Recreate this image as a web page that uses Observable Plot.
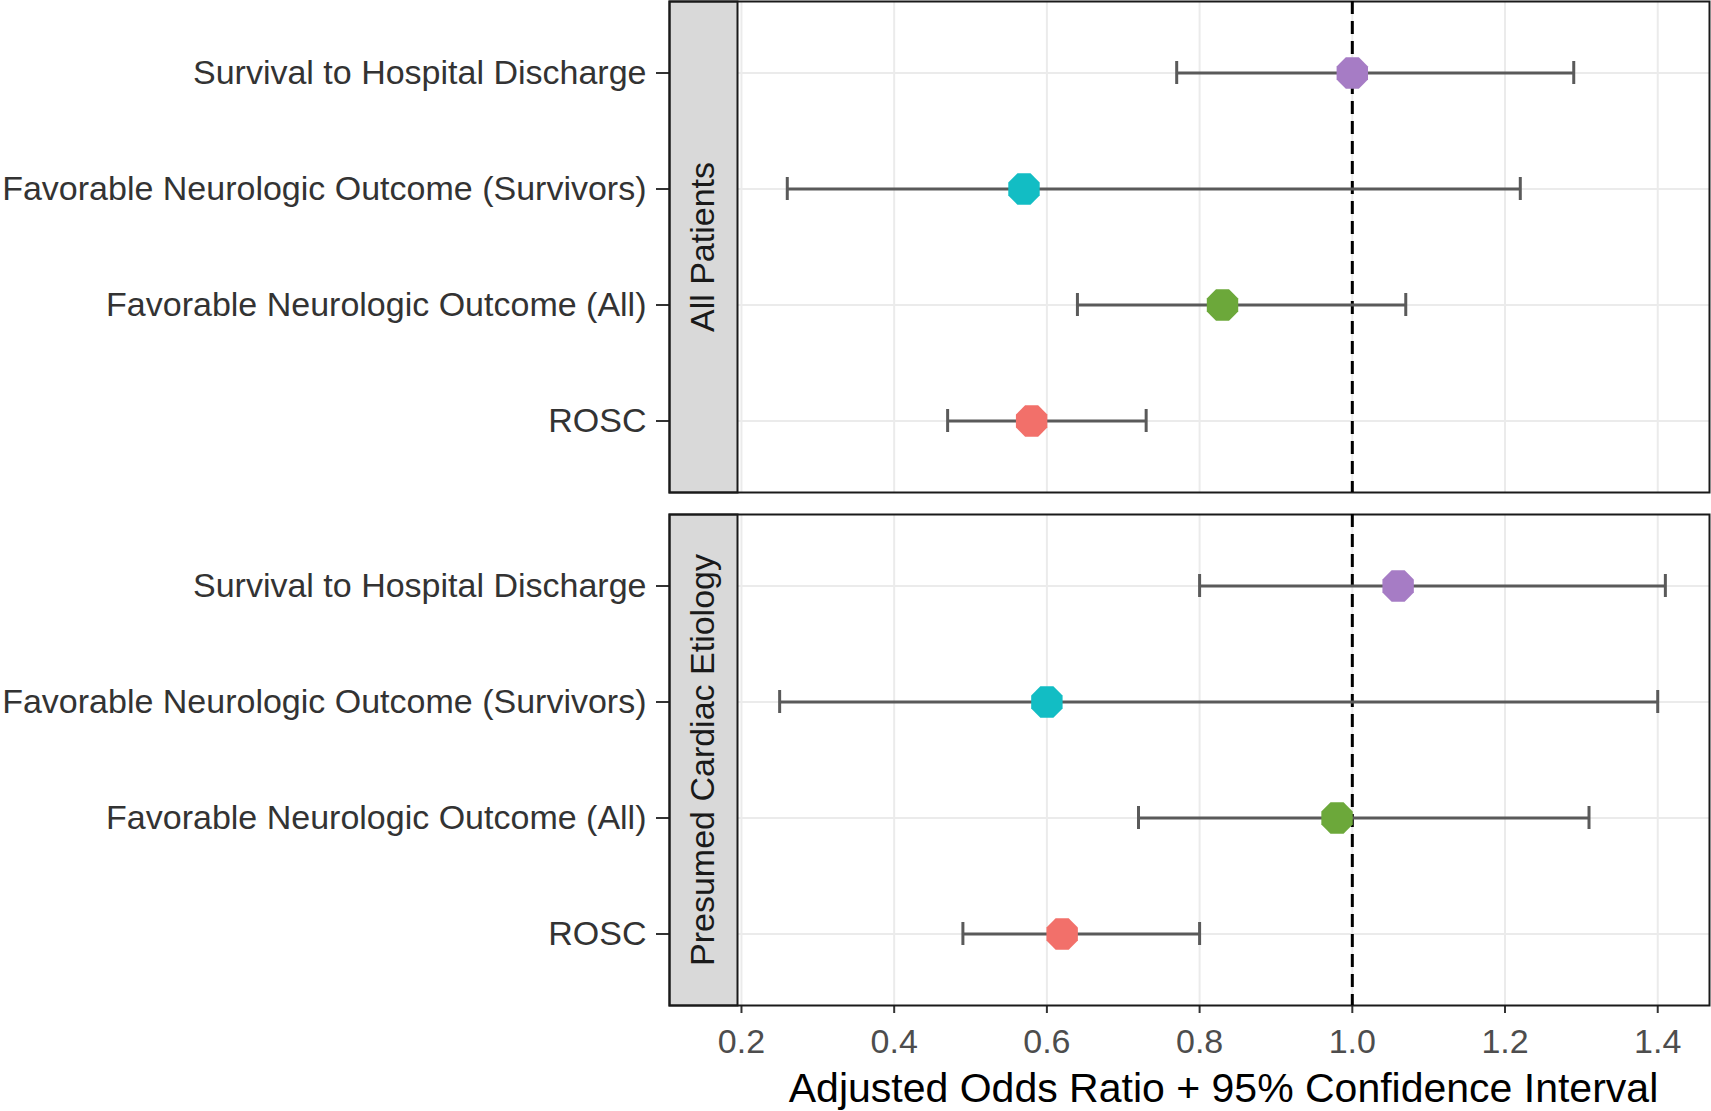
<!DOCTYPE html>
<html>
<head>
<meta charset="utf-8">
<script src="https://cdn.jsdelivr.net/npm/d3@7"></script>
<script src="https://cdn.jsdelivr.net/npm/@observablehq/plot@0.6"></script>
<style>
  body { margin: 0; background: #fff; }
  #chart svg { display: block; }
</style>
</head>
<body>
<div id="chart"></div>
<script>
// ---- data ----
const panels = ["All Patients", "Presumed Cardiac Etiology"];
const outcomes = [
  "Survival to Hospital Discharge",
  "Favorable Neurologic Outcome (Survivors)",
  "Favorable Neurologic Outcome (All)",
  "ROSC"
];
const orAll      = [1.00, 0.57, 0.83, 0.58];
const lowerAll   = [0.77, 0.26, 0.64, 0.47];
const upperAll   = [1.29, 1.22, 1.07, 0.73];
const orCardiac    = [1.06, 0.60, 0.98, 0.62];
const lowerCardiac = [0.80, 0.25, 0.72, 0.49];
const upperCardiac = [1.41, 1.40, 1.31, 0.80];
const xTicks = [0.2, 0.4, 0.6, 0.8, 1.0, 1.2, 1.4];
const referenceLine = [1.0];
const outcomeColors = ["#A67CC5", "#12BDC4", "#6CA83A", "#F2706A"];
const xTitle = "Adjusted Odds Ratio + 95% Confidence Interval";

// ---- table built from arrays ----
const ors = [orAll, orCardiac], los = [lowerAll, lowerCardiac], his = [upperAll, upperCardiac];
const rows = [];
panels.forEach((p, pi) => outcomes.forEach((o, i) => rows.push({
  panel: p, outcome: o, or: ors[pi][i], lo: los[pi][i], hi: his[pi][i]
})));

// ---- layout ----
const W = 1711, H = 1111;
const mL = 737, mR = 2, mT = 1, mB = 106;
const stripW = 68;
const panelW = W - mL - mR;

const octagon = {
  draw(context, size) {
    const r = Math.sqrt(size / Math.PI);
    for (let k = 0; k < 8; ++k) {
      const a = Math.PI / 8 + k * Math.PI / 4;
      const px = r * Math.cos(a), py = r * Math.sin(a);
      if (k === 0) context.moveTo(px, py); else context.lineTo(px, py);
    }
    context.closePath();
  }
};

const chart = Plot.plot({
  width: W,
  height: H,
  marginLeft: mL,
  marginRight: mR,
  marginTop: mT,
  marginBottom: mB,
  style: {fontFamily: "'Liberation Sans', Arial, sans-serif", color: "#333", background: "#fff", overflow: "visible"},
  x: {domain: [0.1948, 1.4678]},
  y: {type: "band", domain: outcomes, paddingInner: 0.8, paddingOuter: 0.5},
  fy: {domain: panels, paddingInner: 22 / 513, paddingOuter: 0, axis: null},
  color: {domain: outcomes, range: outcomeColors},
  marks: [
    Plot.ruleX(xTicks, {x: d => d, stroke: "#ebebeb", strokeWidth: 2}),
    Plot.ruleY(outcomes, {y: d => d, stroke: "#ebebeb", strokeWidth: 2}),
    Plot.axisY({tickSize: stripW + 13, tickPadding: 10, fontSize: 34, label: null, stroke: "#333", strokeWidth: 2, fill: "#333"}),
    Plot.axisX({ticks: xTicks, tickSize: 8, tickPadding: 15, fontSize: 34, label: null, tickFormat: d3.format(".1f"), stroke: "#333", strokeWidth: 2, fill: "#4d4d4d"}),
    Plot.frame({fill: "#d9d9d9", stroke: "#1a1a1a", strokeWidth: 2, insetLeft: -stripW, insetRight: panelW}),
    Plot.frame({stroke: "#1a1a1a", strokeWidth: 2, insetLeft: -stripW}),
    Plot.text(panels, {fy: d => d, text: d => d, frameAnchor: "left", textAnchor: "middle", lineAnchor: "middle", dx: -stripW / 2, rotate: -90, fontSize: 34, fill: "#1a1a1a"}),
    Plot.ruleX(referenceLine, {x: d => d, stroke: "#000", strokeWidth: 3, strokeDasharray: "13,7"}),
    Plot.ruleY(rows, {fy: "panel", y: "outcome", x1: "lo", x2: "hi", stroke: "#5a5a5a", strokeWidth: 3}),
    Plot.tickX(rows, {fy: "panel", y: "outcome", x: "lo", stroke: "#5a5a5a", strokeWidth: 3}),
    Plot.tickX(rows, {fy: "panel", y: "outcome", x: "hi", stroke: "#5a5a5a", strokeWidth: 3}),
    Plot.dot(rows, {fy: "panel", y: "outcome", x: "or", fill: "outcome", symbol: octagon, r: 17, stroke: "none"}),
    Plot.text([{panel: panels[1], label: xTitle}], {fy: "panel", text: "label", frameAnchor: "bottom", lineAnchor: "middle", dy: 83, fontSize: 41, fill: "#000"})
  ]
});
document.getElementById("chart").appendChild(chart);
</script>
</body>
</html>
